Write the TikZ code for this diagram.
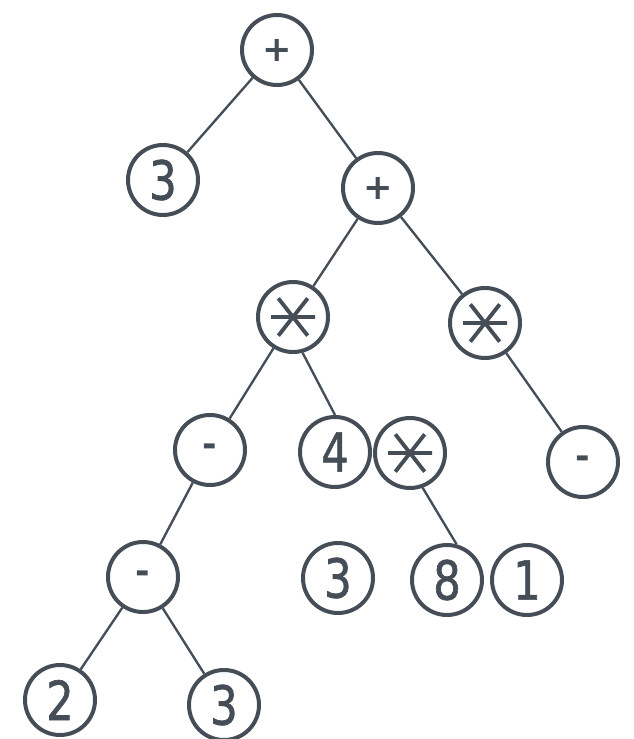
\documentclass[tikz,border=0pt]{standalone}
\usepackage{fontspec}
\setmainfont{DejaVu Sans}
\newfontfamily\digitfont[FakeStretch=0.8,FakeBold=1.2]{DejaVu Sans}
\definecolor{ink}{HTML}{454D57}
\begin{document}
\begin{tikzpicture}[x=0.03cm,y=-0.03cm,
  nd/.style={circle,draw=ink,line width=3.4pt,minimum size=2.1cm,inner sep=0pt,text=ink,
    font=\digitfont\fontsize{46}{46}\selectfont},
  op/.style={nd,font=\bfseries\fontsize{30}{30}\selectfont},
  ast/.style={nd,path picture={
    \draw[ink,line width=3.3pt]
      ([xshift=-0.66cm]path picture bounding box.center) -- ([xshift=0.66cm]path picture bounding box.center)
      ([xshift=-0.44cm,yshift=0.56cm]path picture bounding box.center) -- ([xshift=0.44cm,yshift=-0.56cm]path picture bounding box.center)
      ([xshift=-0.44cm,yshift=-0.56cm]path picture bounding box.center) -- ([xshift=0.44cm,yshift=0.56cm]path picture bounding box.center);}},
  edge/.style={draw=ink,line width=2pt}]
\useasboundingbox (0,0) rectangle (633,739);
\node[op]  (r) at (277,50)  {+};
\node[nd]  (a) at (163,180) {3};
\node[op]  (b) at (378,188) {+};
\node[ast] (c) at (293,317) {};
\node[ast] (d) at (485,323) {};
\node[op]  (e) at (210,450) {-};
\node[nd]  (f) at (335,452) {4};
\node[ast] (g) at (410,453) {};
\node[op]  (h) at (583,462) {-};
\node[op]  (i) at (143,577) {-};
\node[nd]  (j) at (338,578) {3};
\node[nd]  (k) at (447,580) {8};
\node[nd]  (l) at (527,580) {1};
\node[nd]  (m) at (60,700)  {2};
\node[nd]  (n) at (224,705) {3};
\draw[edge] (r) -- (a);
\draw[edge] (r) -- (b);
\draw[edge] (b) -- (c);
\draw[edge] (b) -- (d);
\draw[edge] (c) -- (e);
\draw[edge] (c.-75) -- (f.north);
\draw[edge] (d) -- (h);
\draw[edge] (e) -- (i);
\draw[edge] (g.-70) -- (k.75);
\draw[edge] (i) -- (m);
\draw[edge] (i) -- (n);
\end{tikzpicture}
\end{document}
